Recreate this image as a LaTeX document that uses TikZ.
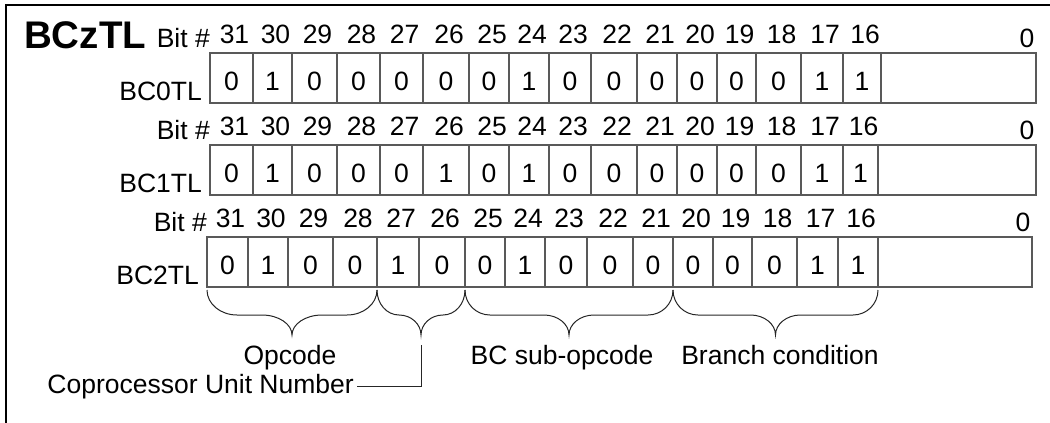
\documentclass[tikz,border=0pt]{standalone}
\usepackage{fontspec}
\setmainfont{Liberation Sans}
\usetikzlibrary{calc}
\newcommand\regfont{\fontsize{26.5}{32}\selectfont}
\tikzset{
  frame/.style={line width=1.6pt,black},
  regcell/.style={line width=1.2pt,black!65},
  bitval/.style={anchor=base,inner sep=0pt,font=\regfont},
  bitnum/.style={anchor=base,inner sep=0pt,font=\regfont},
  regname/.style={anchor=base east,inner sep=0pt,font=\regfont},
  fieldname/.style={anchor=base,inner sep=0pt,font=\regfont},
  brace line/.style={line width=1pt,black!85}
}

\begin{document}
\begin{tikzpicture}[x=1pt,y=-1pt]
  \useasboundingbox (0,0) rectangle (1050,423);
  \draw[frame] (6,423) -- (6,5) -- (1050,5);
  \node[anchor=base west,inner sep=0pt,font=\fontsize{38.5}{42}\selectfont\bfseries] (title) at (24,48) {BCzTL};
  % three registers, bit 31 .. 16
  \foreach \nm/\yt/\xe/\bnd/\vals in {
    BC0TL/53/1036/{210,253,292,337,380,423,469,509,549,591,637,677,717,756,801,843,881}/{0,1,0,0,0,0,0,1,0,0,0,0,0,0,1,1},
    BC1TL/145/1036/{210,253,292,337,380,423,469,509,549,591,637,677,717,756,801,843,878}/{0,1,0,0,0,1,0,1,0,0,0,0,0,0,1,1},
    BC2TL/237/1032/{207,248,288,333,377,419,465,505,545,587,633,673,713,752,797,838,878}/{0,1,0,0,1,0,0,1,0,0,0,0,0,0,1,1}}
  {
    \pgfmathsetmacro\yb{\yt+50}
    \pgfmathsetmacro\xo{{\bnd}[0]}
    \draw[regcell] (\xo,\yt) rectangle (\xe,\yb);
    \node[regname] (\nm) at (\xo-8,\yb-3) {\nm};
    \node[regname] (\nm-bit) at (\xo,\yt-6) {Bit \#};
    \node[bitnum] (\nm-n0) at (\xe-9,\yt-6) {0};
    \foreach \i in {0,...,15} {
      \pgfmathsetmacro\xa{{\bnd}[\i]}
      \pgfmathsetmacro\xb{{\bnd}[\i+1]}
      \pgfmathtruncatemacro\k{31-\i}
      \pgfmathtruncatemacro\v{{\vals}[\i]}
      \draw[regcell] (\xb,\yt) -- (\xb,\yb);
      \node[bitval] (\nm-b\k) at ({(\xa+\xb)/2},\yb-13) {\v};
      \node[bitnum] (\nm-n\k) at ({(\xa+\xb)/2+3},\yt-10) {\k};
    }
  }
  % field braces under BC2TL
  \foreach \xa/\xb/\rad/\fld in {207/377/30/opc,377/465/22/cop,465/673/25/sub,673/878/25/cond} {
    \pgfmathsetmacro\xm{(\xa+\xb)/2}
    \draw[brace line] (\xa,290) .. controls (\xa,304) and (\xa+0.45*\rad,315) .. (\xa+\rad,315)
      -- (\xm-\rad,315) .. controls (\xm-0.45*\rad,315) and (\xm,324) .. (\xm,335)
      .. controls (\xm,324) and (\xm+0.45*\rad,315) .. (\xm+\rad,315)
      -- (\xb-\rad,315) .. controls (\xb-0.45*\rad,315) and (\xb,304) .. (\xb,290);
    \coordinate (\fld-tip) at (\xm,335);
  }
  \node[fieldname] (opcode) at (290,364) {Opcode};
  \node[fieldname] (subop) at (562,364) {BC sub-opcode};
  \node[fieldname] (cond) at (780,364) {Branch condition};
  \node[regname,inner xsep=3pt] (cun) at (357,393) {Coprocessor Unit Number};
  \coordinate (cop-lead) at ($(cop-tip)+(0,10)$);
  \draw[brace line] (cun.east) -| (cop-lead);
\end{tikzpicture}
\end{document}
